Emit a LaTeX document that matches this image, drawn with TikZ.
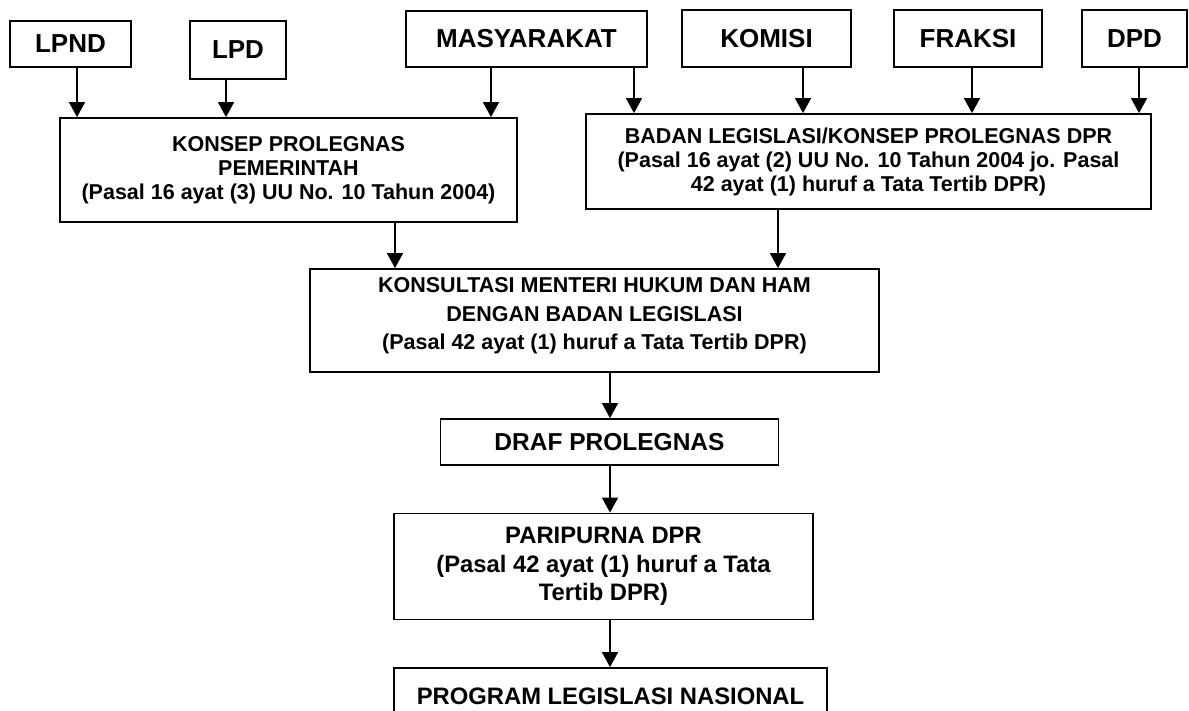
\documentclass[tikz,border=0pt]{standalone}
\usepackage{fontspec}
\setmainfont{Liberation Sans}
\usetikzlibrary{arrows.meta}
\begin{document}
\begin{tikzpicture}[x=1pt,y=-1pt,
  topbox/.style={draw,line width=1.8pt,inner sep=0pt,align=center,font=\fontsize{26}{30}\selectfont\bfseries},
  midbox/.style={draw,line width=1.8pt,inner sep=0pt,align=center,font=\fontsize{21.5}{24}\selectfont\bfseries},
  bigbox/.style={draw,line width=1.8pt,inner sep=0pt,align=center,font=\fontsize{23.8}{28.5}\selectfont\bfseries},
  arr/.style={line width=1.5pt,-{Triangle[length=15pt,width=16pt]}}]
\useasboundingbox (0,0) rectangle (1189,710);
% top row
\node[topbox,minimum width=121pt,minimum height=46pt] (lpnd) at (70.5,44) {LPND};
\node[topbox,minimum width=96pt,minimum height=58pt] (lpd) at (238,50) {LPD};
\node[topbox,minimum width=241pt,minimum height=56pt] (masy) at (526.5,39) {MASYARAKAT};
\node[topbox,minimum width=169pt,minimum height=57pt] (komisi) at (766.5,38.5) {KOMISI};
\node[topbox,minimum width=148pt,minimum height=57pt] (fraksi) at (968,38.5) {FRAKSI};
\node[topbox,minimum width=105pt,minimum height=57pt] (dpd) at (1134.5,38.5) {DPD};
% second row
\node[midbox,minimum width=457pt,minimum height=104pt] (konsep) at (288.5,170)
  {KONSEP PROLEGNAS\\PEMERINTAH\\(Pasal 16 ayat (3) UU No. 10 Tahun 2004)};
\node[midbox,minimum width=565pt,minimum height=95pt] (badan) at (868.5,161.5)
  {BADAN LEGISLASI/KONSEP PROLEGNAS DPR\\(Pasal 16 ayat (2) UU No. 10 Tahun 2004 jo. Pasal\\42 ayat (1) huruf a Tata Tertib DPR)};
% consultation
\node[midbox,minimum width=569pt,minimum height=103pt,text depth=14pt,
  font=\fontsize{21.5}{28.5}\selectfont\bfseries] (konsul) at (594.5,320.5)
  {KONSULTASI MENTERI HUKUM DAN HAM\\DENGAN BADAN LEGISLASI\\(Pasal 42 ayat (1) huruf a Tata Tertib DPR)};
\node[bigbox,minimum width=338pt,minimum height=46pt,font=\fontsize{24.5}{28.5}\selectfont\bfseries] (draf) at (609.5,442) {DRAF PROLEGNAS};
\node[bigbox,minimum width=419pt,minimum height=106pt] (pari) at (603.5,566.5)
  {PARIPURNA DPR\\(Pasal 42 ayat (1) huruf a Tata\\Tertib DPR)};
\node[bigbox,minimum width=433pt,minimum height=56pt] (prog) at (610.5,696) {PROGRAM LEGISLASI NASIONAL};
% arrows
\draw[arr] (lpnd.south -| 77,0) -- (konsep.north -| 77,0);
\draw[arr] (lpd.south -| 226,0) -- (konsep.north -| 226,0);
\draw[arr] (masy.south -| 491,0) -- (konsep.north -| 491,0);
\draw[arr] (masy.south -| 634,0) -- (badan.north -| 634,0);
\draw[arr] (komisi.south -| 803,0) -- (badan.north -| 803,0);
\draw[arr] (fraksi.south -| 972,0) -- (badan.north -| 972,0);
\draw[arr] (dpd.south -| 1139,0) -- (badan.north -| 1139,0);
\draw[arr] (konsep.south -| 395,0) -- (konsul.north -| 395,0);
\draw[arr] (badan.south -| 778,0) -- (konsul.north -| 778,0);
\draw[arr] (konsul.south -| 610,0) -- (draf.north -| 610,0);
\draw[arr] (draf.south -| 610,0) -- (pari.north -| 610,0);
\draw[arr] (pari.south -| 610,0) -- (prog.north -| 610,0);
\end{tikzpicture}
\end{document}
